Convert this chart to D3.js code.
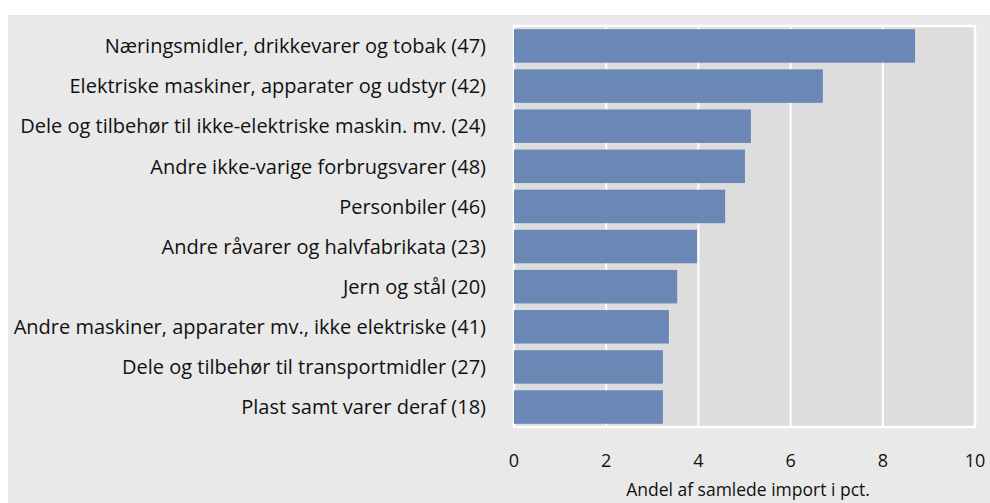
<!DOCTYPE html>
<html>
<head>
<meta charset="utf-8">
<style>
  body { margin: 0; background: #fff; }
  svg text { font-family: "Open Sans", "Noto Sans", sans-serif; fill: #111; }
</style>
</head>
<body>
<svg id="chart" width="990" height="503"></svg>
<script src="https://d3js.org/d3.v7.min.js"></script>
<script>
    // data
    var categories = [
        "Næringsmidler, drikkevarer og tobak (47)",
        "Elektriske maskiner, apparater og udstyr (42)",
        "Dele og tilbehør til ikke-elektriske maskin. mv. (24)",
        "Andre ikke-varige forbrugsvarer (48)",
        "Personbiler (46)",
        "Andre råvarer og halvfabrikata (23)",
        "Jern og stål (20)",
        "Andre maskiner, apparater mv., ikke elektriske (41)",
        "Dele og tilbehør til transportmidler (27)",
        "Plast samt varer deraf (18)"
    ];
    var values = [8.70, 6.70, 5.14, 5.01, 4.58, 3.97, 3.54, 3.36, 3.23, 3.23];
    var ticks = [0, 2, 4, 6, 8, 10];
    var axisTitle = "Andel af samlede import i pct.";

    var width = 990, height = 503;
    var plot = {left: 514, right: 975, top: 26, bottom: 427};

    var svg = d3.select("#chart");

    // outer grey panel
    svg.append("rect")
        .attr("x", 8).attr("y", 15)
        .attr("width", width - 8).attr("height", height - 15)
        .attr("fill", "#e9e9e9");

    var x = d3.scaleLinear().domain([0, 10]).range([plot.left, plot.right]);
    var y = d3.scaleBand().domain(categories)
        .range([plot.top, plot.bottom])
        .paddingInner(0.165).paddingOuter(0.08);

    // plot area with white frame
    svg.append("rect")
        .attr("x", plot.left).attr("y", plot.top)
        .attr("width", plot.right - plot.left).attr("height", plot.bottom - plot.top)
        .attr("fill", "#dddddd")
        .attr("stroke", "#ffffff").attr("stroke-width", 2.5);

    // gridlines
    svg.append("g").selectAll("line")
        .data(ticks.filter(function(t) { return t > 0 && t < 10; }))
        .enter().append("line")
        .attr("x1", function(d) { return x(d); })
        .attr("x2", function(d) { return x(d); })
        .attr("y1", plot.top).attr("y2", plot.bottom)
        .attr("stroke", "#ffffff").attr("stroke-width", 2);

    // bars
    svg.append("g").selectAll("rect")
        .data(values)
        .enter().append("rect")
        .attr("x", x(0))
        .attr("y", function(d, i) { return y(categories[i]); })
        .attr("width", function(d) { return x(d) - x(0); })
        .attr("height", y.bandwidth())
        .attr("fill", "#6a87b6");

    // category labels
    svg.append("g").selectAll("text")
        .data(categories)
        .enter().append("text")
        .attr("x", 486)
        .attr("y", function(d) { return y(d) + y.bandwidth() / 2; })
        .attr("dy", "0.36em")
        .attr("text-anchor", "end")
        .style("font-size", "20px")
        .text(function(d) { return d; });

    // x tick labels
    svg.append("g").selectAll("text")
        .data(ticks)
        .enter().append("text")
        .attr("x", function(d) { return x(d); })
        .attr("y", 467)
        .attr("text-anchor", "middle")
        .style("font-size", "18px")
        .text(function(d) { return d; });

    svg.append("text")
        .attr("x", 748).attr("y", 496)
        .attr("text-anchor", "middle")
        .style("font-size", "17.5px")
        .text(axisTitle);
</script>
</body>
</html>
